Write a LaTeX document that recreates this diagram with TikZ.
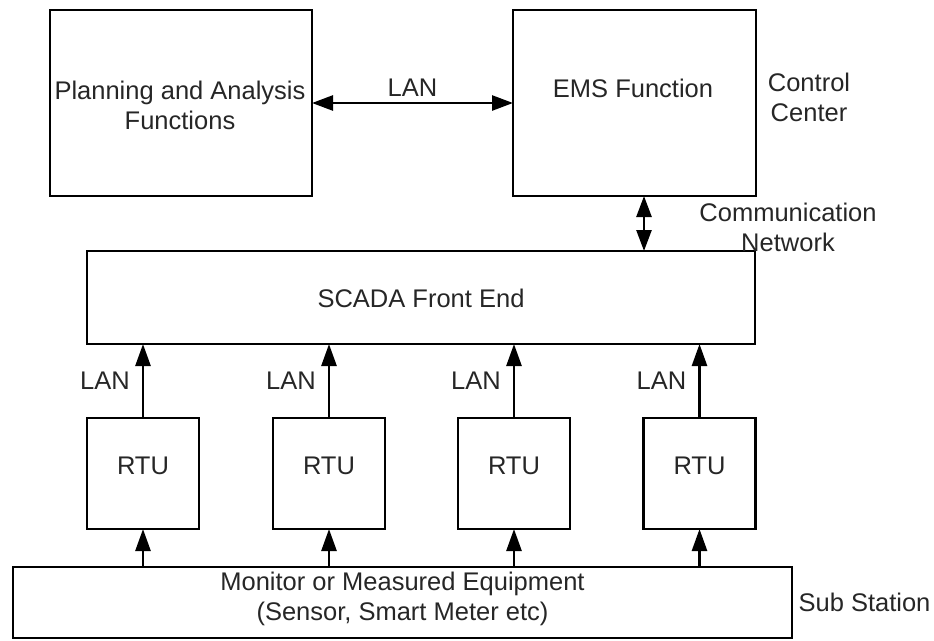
\documentclass[tikz,border=0pt]{standalone}
\usepackage{fontspec}
\setmainfont{Liberation Sans}
\usetikzlibrary{arrows.meta}
\begin{document}
\begin{tikzpicture}[x=1pt,y=-1pt,
  box/.style={draw, line width=2.6pt, inner sep=0pt, outer sep=0pt},
  txt/.style={inner sep=0pt, font=\fontsize{25.5}{30}\selectfont, align=center, text=black!85},
  conn/.style={line width=2.6pt, -{Triangle[length=22pt,width=15pt]}},
  dconn/.style={line width=2.6pt, {Triangle[length=21pt,width=15pt]}-{Triangle[length=21pt,width=15pt]}}]
\useasboundingbox (0,0) rectangle (934,640);

% control center boxes
\node[box, minimum width=262pt, minimum height=186pt] (plan) at (181,103) {};
\node[box, minimum width=243pt, minimum height=186pt] (ems) at (634.5,103) {};
\node[txt] (plantxt) at (180,105) {Planning and Analysis\\Functions};
\node[txt] (emstxt) at (633,88) {EMS Function};
\node[txt] (cc) at (809,97) {Control\\Center};

% SCADA front end
\node[box, minimum width=668pt, minimum height=93pt] (scada) at (421,297.5) {};
\node[txt] (scadatxt) at (421,298) {SCADA Front End};
\node[txt] (comm) at (788,227.5) {Communication\\Network};

% RTUs
\foreach \i/\cx in {1/143,2/329,3/514,4/699.5}{
  \node[box, minimum width=112pt, minimum height=111pt] (rtu\i) at (\cx,473.5) {};
  \node[txt] (rtutxt\i) at (\cx,466) {RTU};
}

% field equipment
\node[box, minimum width=779pt, minimum height=71pt] (equip) at (402.5,602.5) {};
\node[txt] (equiptxt) at (402.5,598.5) {Monitor or Measured Equipment\\(Sensor, Smart Meter etc)};
\node[txt] (sub) at (864.5,602) {Sub Station};

% LAN between planning and EMS
\draw[dconn] (plan.east) -- (ems.west) node[txt, midway, above=5pt] (lantop) {LAN};

% communication network link
\draw[dconn] ([xshift=9.5pt]ems.south) -- ([xshift=9.5pt]ems.south |- scada.north);

% RTU links
\foreach \i in {1,2,3,4}{
  \draw[conn] (rtu\i.north) -- (rtu\i.north |- scada.south)
    node[txt, midway, left=12pt] (lan\i) {LAN};
  \draw[conn] (equip.north -| rtu\i) -- (rtu\i.south);
}
\end{tikzpicture}
\end{document}
